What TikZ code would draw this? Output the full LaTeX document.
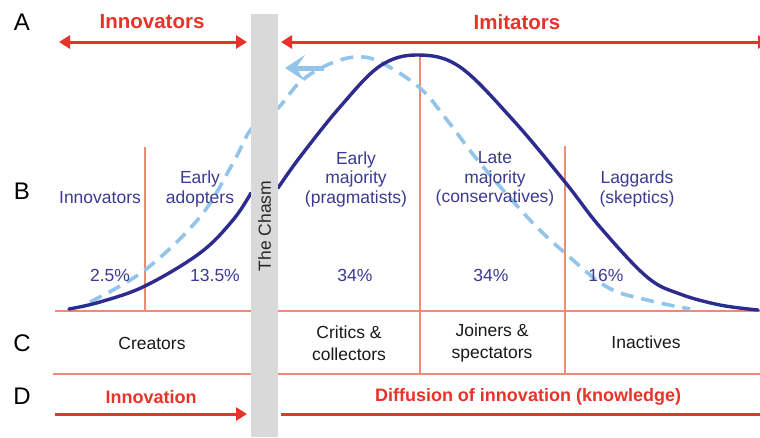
\documentclass[tikz,border=0pt]{standalone}
\usepackage{fontspec}
\setmainfont{Liberation Sans}
\usetikzlibrary{arrows.meta}
\definecolor{redA}{HTML}{E8332A}
\definecolor{salmon}{HTML}{EE8B73}
\definecolor{navy}{HTML}{2D2B8E}
\definecolor{navytext}{HTML}{3C3A92}
\definecolor{lightblue}{HTML}{93C5EA}
\definecolor{chasmgray}{HTML}{D9D9D9}
\begin{document}
\begin{tikzpicture}[x=1pt,y=-1pt,
  gridline/.style={draw=salmon,line width=1.3pt},
  redarrow/.style={draw=redA,line width=3pt},
  redtip/.style={-{Triangle[length=11pt,width=13pt]}},
  redtips/.style={{Triangle[length=11pt,width=13pt]}-{Triangle[length=11pt,width=13pt]}},
  rowletter/.style={font=\fontsize{24}{24}\selectfont,text=black,inner sep=0pt},
  bluetxt/.style={text=navytext,font=\fontsize{17.5}{19.5}\selectfont,align=center,inner sep=0pt},
  blacktxt/.style={text=black!90,font=\fontsize{17.5}{22}\selectfont,align=center,inner sep=0pt},
  redlabel/.style={text=redA,font=\bfseries\fontsize{20.5}{22}\selectfont,inner sep=0pt},
  redlabelsmall/.style={text=redA,font=\bfseries\fontsize{18}{20}\selectfont,inner sep=0pt},
]
\useasboundingbox (0,0) rectangle (760,437);
\clip (0,0) rectangle (760,437);
\fill[white] (0,0) rectangle (760,437);

% grid lines
\draw[gridline] (55,311) -- (760,311);
\draw[gridline] (53,374) -- (760,374);
\draw[gridline] (145,147) -- (145,311);
\draw[gridline] (420,54) -- (420,374);
\draw[gridline] (565,146) -- (565,374);

% dashed curve
\draw[lightblue,line width=3.6pt,dash pattern=on 13pt off 8pt]
  plot[smooth,tension=0.6] coordinates {(90,302) (145,270) (200,217) (233,163) (252,128) (278,108) (300,82) (327,65) (355,57) (380,62) (420,88) (447,120) (480,163) (530,220) (565,253) (607,287) (647,300) (690,309)};

% solid curve
\draw[navy,line width=3.4pt,line cap=round]
  plot[smooth,tension=0.6] coordinates {(69,309) (100,302) (145,286) (200,253) (233,220) (251,193)};
\draw[navy,line width=3.4pt,line cap=round]
  plot[smooth,tension=0.6] coordinates {(278,188) (300,157) (340,107) (380,66) (418,55) (460,67) (513,120) (565,182) (600,227) (647,277) (680,294) (720,305) (758,310)};

% light blue arrow
\coordinate (lbS) at (324,68);
\coordinate (lbE) at (285,68);
\draw[lightblue,line width=5pt,-{Stealth[length=20pt,width=26pt,inset=9pt]}] (lbS) -- (lbE);

% chasm
\fill[chasmgray] (251,14) rectangle (278,437);
\node[rotate=90,text=black!85,font=\fontsize{17.5}{17.5}\selectfont,inner sep=0pt] (chasm) at (264.5,226) {The Chasm};

% top arrows
\coordinate (innL) at (59,42);
\coordinate (innR) at (247,42);
\coordinate (imiL) at (281,42);
\coordinate (imiR) at (769,42);
\draw[redarrow,redtips] (innL) -- (innR);
\draw[redarrow,redtips] (imiL) -- (imiR);
\node[redlabel] (innovA) at (152,22) {Innovators};
\node[redlabel] (imitA) at (517,22) {Imitators};

% row letters
\node[rowletter] (lA) at (22,22) {A};
\node[rowletter] (lB) at (22,191) {B};
\node[rowletter] (lC) at (22,343) {C};
\node[rowletter] (lD) at (22,396) {D};

% B row texts
\node[bluetxt] (bInn) at (100,198) {Innovators};
\node[bluetxt] (bEA) at (200,189) {Early\\adopters};
\node[bluetxt] (bEM) at (356,179) {Early\\majority\\(pragmatists)};
\node[bluetxt] (bLM) at (495,179) {Late\\majority\\(conservatives)};
\node[bluetxt] (bLag) at (637,189) {Laggards\\(skeptics)};

\node[bluetxt] (p1) at (110,275) {2.5\%};
\node[bluetxt] (p2) at (215,275) {13.5\%};
\node[bluetxt] (p3) at (355,275) {34\%};
\node[bluetxt] (p4) at (491,275) {34\%};
\node[bluetxt] (p5) at (606,275) {16\%};

% C row
\node[blacktxt] (cCre) at (152,343) {Creators};
\node[blacktxt] (cCri) at (349,343) {Critics \&\\collectors};
\node[blacktxt] (cJoi) at (492,343) {Joiners \&\\spectators};
\node[blacktxt] (cIna) at (646,342) {Inactives};

% D row
\node[redlabelsmall] (dInn) at (151,397) {Innovation};
\node[redlabelsmall] (dDif) at (528,397) {Diffusion of innovation (knowledge)};
\coordinate (dL1) at (55,414);
\coordinate (dR1) at (247,414);
\coordinate (dL2) at (281,414);
\coordinate (dR2) at (772,414);
\draw[redarrow,redtip] (dL1) -- (dR1);
\draw[redarrow,redtip] (dL2) -- (dR2);
\end{tikzpicture}
\end{document}
